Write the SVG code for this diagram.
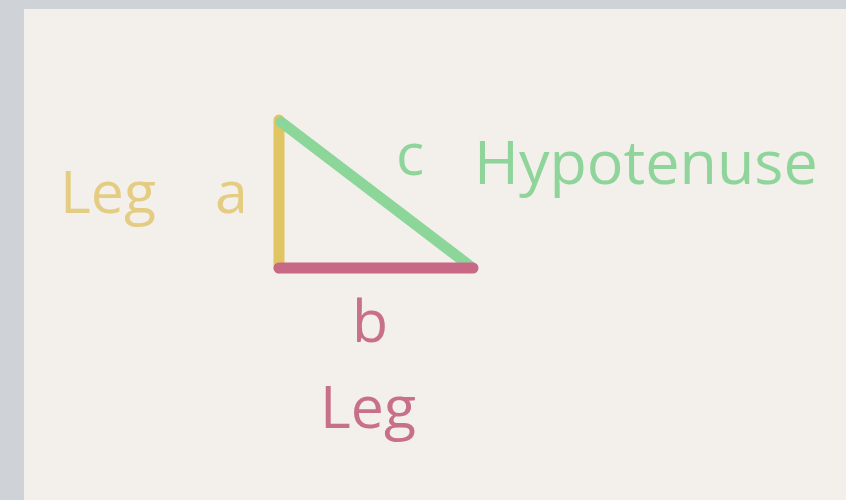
<svg xmlns="http://www.w3.org/2000/svg" width="846" height="500" viewBox="0 0 846 500">
<style>
.t{font-family:"Open Sans","Noto Sans","Liberation Sans",sans-serif;font-size:59px}
.ln{fill:none;stroke-width:11;stroke-linecap:round}
</style>
<rect width="846" height="500" fill="#cfd3d8"/>
<rect x="24" y="9" width="822" height="491" fill="#f3f0eb"/>
<g id="connectors">
<line class="ln" x1="279" y1="120" x2="279" y2="268" stroke="#e0c562"/>
<line class="ln" x1="281" y1="122" x2="470" y2="266" stroke="#8dd69a"/>
<line class="ln" x1="279" y1="268" x2="473" y2="268" stroke="#c96886"/>
</g>
<g id="leg-a">
<text class="t" x="60" y="213" fill="#e4cd82">Leg</text>
<text class="t" x="215" y="213" fill="#e4cd82">a</text>
</g>
<g id="hyp-c">
<text class="t" x="396" y="175" fill="#8fd59b">c</text>
<text class="t" x="474" y="184" fill="#8fd59b" style="font-size:61px">Hypotenuse</text>
</g>
<g id="leg-b">
<text class="t" x="352" y="342" fill="#c8708a">b</text>
<text class="t" x="320" y="428" fill="#c8708a">Leg</text>
</g>
</svg>
